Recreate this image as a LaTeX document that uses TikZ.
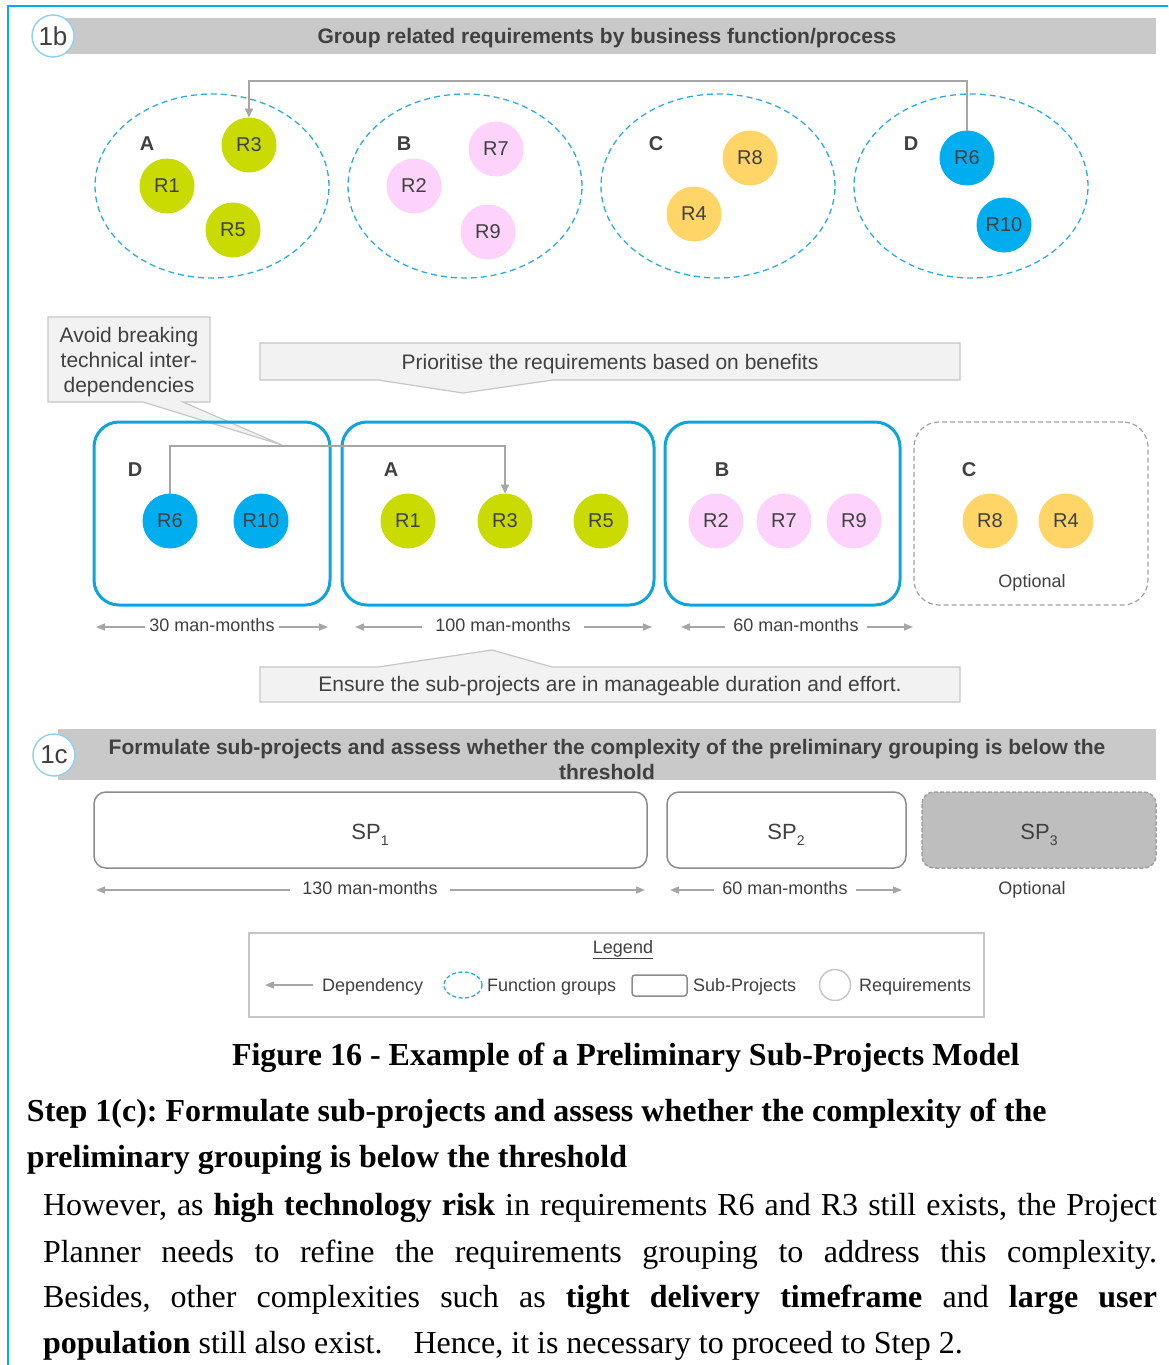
\documentclass[tikz,border=0pt]{standalone}
\usepackage{fontspec}
\setmainfont{Liberation Sans}
\newfontfamily\bodyserif{Liberation Serif}
\usetikzlibrary{arrows.meta,shapes.geometric,calc}
\frenchspacing

\definecolor{frameblue}{HTML}{00AEEF}
\definecolor{barfill}{HTML}{C9C9C9}
\definecolor{inktext}{HTML}{404040}
\definecolor{ringblue}{HTML}{8CD2EF}
\definecolor{groupblue}{HTML}{29ABE2}
\definecolor{spblue}{HTML}{0EA5DD}
\definecolor{reqgreen}{HTML}{C9DB00}
\definecolor{reqpink}{HTML}{FDD2FB}
\definecolor{reqyellow}{HTML}{FFD567}
\definecolor{reqcyan}{HTML}{00AEEF}
\definecolor{deparrow}{HTML}{A6A6A6}
\definecolor{calloutfill}{HTML}{F2F2F2}
\definecolor{calloutline}{HTML}{C6C6C6}
\definecolor{spline}{HTML}{8C8C8C}
\definecolor{optfill}{HTML}{BEBEBE}
\definecolor{optline}{HTML}{A0A0A0}

\newcommand\atsize[1]{\fontsize{#1}{#1}\selectfont}
\newcommand\lowsub[1]{\raisebox{-0.3em}{\atsize{14}#1}}

\begin{document}
\begin{tikzpicture}[x=1pt,y=-1pt,
  every node/.style={inner sep=0pt, outer sep=0pt, text=inktext},
  stepring/.style={circle, draw=ringblue, line width=1.4pt, fill=white,
    minimum size=42pt, font=\atsize{26}},
  headbar/.style={fill=barfill, draw=none},
  headtext/.style={font=\bfseries\atsize{21}, anchor=base},
  grouplabel/.style={font=\bfseries\atsize{20}, anchor=base},
  req/.style={circle, minimum size=55pt, font=\atsize{20}},
  fgroup/.style={ellipse, draw=groupblue, line width=1.3pt,
    dash pattern=on 6pt off 4pt, minimum width=234pt, minimum height=184pt},
  subproj/.style={draw=spblue, line width=3pt, rounded corners=25pt},
  optproj/.style={draw=optline, line width=1.2pt, dash pattern=on 5pt off 3pt,
    rounded corners=25pt},
  dep/.style={draw=deparrow, line width=2pt, -{Triangle[length=9pt,width=8pt]}},
  dimarrow/.style={draw=deparrow, line width=1.5pt, -{Triangle[length=9pt,width=7pt]}},
  smalltext/.style={font=\atsize{18}, anchor=base},
  callout/.style={fill=calloutfill, draw=calloutline, line width=1.2pt},
  callouttext/.style={font=\atsize{21}, anchor=base},
  spbox/.style={draw=spline, line width=1.5pt, rounded corners=12pt},
  sptext/.style={font=\atsize{22}, anchor=base},
  serifline/.style={anchor=base west, font=\bodyserif\atsize{32}, text=black},
  serifhead/.style={anchor=base west, font=\bodyserif\bfseries\atsize{32}, text=black},
]
\useasboundingbox (0,0) rectangle (1168,1365);

% page frame
\draw[frameblue, line width=2.5pt] (1168,6) -- (8,6) -- (8,1365);

% ---------- step 1b ----------
\fill[headbar] (62,18) rectangle (1156,54);
\node[stepring] (s1b) at (53,36) {1b};
\node[headtext] (h1b) at (607,43) {Group related requirements by business function/process};

% function groups
\node[fgroup] (gA) at (212,186) {};
\node[fgroup] (gB) at (465,186) {};
\node[fgroup] (gC) at (718,186) {};
\node[fgroup] (gD) at (971,186) {};

\node[grouplabel] (lA) at (147,150) {A};
\node[grouplabel] (lB) at (404,150) {B};
\node[grouplabel] (lC) at (656,150) {C};
\node[grouplabel] (lD) at (911,150) {D};

\node[req, fill=reqgreen] (tR3) at (249,145) {R3};
\node[req, fill=reqgreen] (tR1) at (167,186) {R1};
\node[req, fill=reqgreen] (tR5) at (233,230) {R5};
\node[req, fill=reqpink] (tR7) at (496,149) {R7};
\node[req, fill=reqpink] (tR2) at (414,186) {R2};
\node[req, fill=reqpink] (tR9) at (488,232) {R9};
\node[req, fill=reqyellow] (tR8) at (750,158) {R8};
\node[req, fill=reqyellow] (tR4) at (694,214) {R4};
\node[req, fill=reqcyan] (tR6) at (967,158) {R6};
\node[req, fill=reqcyan] (tR10) at (1004,225) {R10};

\coordinate (toprail) at (0,81);
\draw[dep] (tR6.north) -- (tR6.north |- toprail) -- (tR3.north |- toprail) -- (tR3.north);

% ---------- callouts ----------
\filldraw[callout] (48,317) -- (210,317) -- (210,402) -- (183,402) -- (282,445)
  -- (143,402) -- (48,402) -- cycle;
\node[callouttext] (av1) at (129,342) {Avoid breaking};
\node[callouttext] (av2) at (129,367) {technical inter-};
\node[callouttext] (av3) at (129,392) {dependencies};

\filldraw[callout] (260,343) -- (960,343) -- (960,380) -- (553,380) -- (463,393)
  -- (378,380) -- (260,380) -- cycle;
\node[callouttext] (prio) at (610,369) {Prioritise the requirements based on benefits};

% ---------- preliminary sub-projects ----------
\node[subproj, minimum width=236pt, minimum height=183pt] (bD) at (212,513.5) {};
\node[subproj, minimum width=312pt, minimum height=183pt] (bA) at (498,513.5) {};
\node[subproj, minimum width=235pt, minimum height=183pt] (bB) at (782.5,513.5) {};
\node[optproj, minimum width=234pt, minimum height=183pt] (bC) at (1031,513.5) {};

\node[grouplabel] (mD) at (135,476) {D};
\node[grouplabel] (mA) at (391,476) {A};
\node[grouplabel] (mB) at (722,476) {B};
\node[grouplabel] (mC) at (969,476) {C};

\node[req, fill=reqcyan] (mR6) at (170,521) {R6};
\node[req, fill=reqcyan] (mR10) at (261,521) {R10};
\node[req, fill=reqgreen] (mR1) at (408,521) {R1};
\node[req, fill=reqgreen] (mR3) at (505,521) {R3};
\node[req, fill=reqgreen] (mR5) at (601,521) {R5};
\node[req, fill=reqpink] (mR2) at (716,521) {R2};
\node[req, fill=reqpink] (mR7) at (784,521) {R7};
\node[req, fill=reqpink] (mR9) at (854,521) {R9};
\node[req, fill=reqyellow] (mR8) at (990,521) {R8};
\node[req, fill=reqyellow] (mR4) at (1066,521) {R4};

\node[smalltext] (opt1) at (1032,587) {Optional};

\coordinate (midrail) at (0,446);
\draw[dep] (mR6.north) -- (mR6.north |- midrail) -- (mR3.north |- midrail) -- (mR3.north);

% efforts
\node[smalltext] (e30) at (212,631) {30 man-months};
\node[smalltext] (e100) at (503,631) {100 man-months};
\node[smalltext] (e60) at (796,631) {60 man-months};
\coordinate (e30l) at (96,627);  \coordinate (e30r) at (328,627);
\coordinate (e100l) at (355,627); \coordinate (e100r) at (652,627);
\coordinate (e60l) at (681,627);  \coordinate (e60r) at (913,627);
\draw[dimarrow] ($(e30.west |- e30l)+(-4,0)$) -- (e30l);
\draw[dimarrow] ($(e30.east |- e30r)+(4,0)$) -- (e30r);
\draw[dimarrow] ($(e100.west |- e100l)+(-13,0)$) -- (e100l);
\draw[dimarrow] ($(e100.east |- e100r)+(13,0)$) -- (e100r);
\draw[dimarrow] ($(e60.west |- e60l)+(-8,0)$) -- (e60l);
\draw[dimarrow] ($(e60.east |- e60r)+(8,0)$) -- (e60r);

\filldraw[callout] (260,667) -- (378,667) -- (492,650) -- (552,667) -- (960,667)
  -- (960,702) -- (260,702) -- cycle;
\node[callouttext] (ensure) at (610,691) {Ensure the sub-projects are in manageable duration and effort.};

% ---------- step 1c ----------
\fill[headbar] (58,729) rectangle (1156,780);
\node[stepring] (s1c) at (54,755) {1c};
\node[headtext] (h1c1) at (607,754) {Formulate sub-projects and assess whether the complexity of the preliminary grouping is below the};
\node[headtext] (h1c2) at (607,779) {threshold};

\draw[spbox] (94,792) rectangle (647,868);
\draw[spbox] (667,792) rectangle (906,868);
\draw[spbox, fill=optfill, draw=optline, dash pattern=on 4pt off 2pt] (922,792) rectangle (1156,868);
\node[sptext] (sp1) at (370,839) {SP\lowsub{1}};
\node[sptext] (sp2) at (786,839) {SP\lowsub{2}};
\node[sptext] (sp3) at (1039,839) {SP\lowsub{3}};

\node[smalltext] (e130) at (370,894) {130 man-months};
\node[smalltext] (e60b) at (785,894) {60 man-months};
\node[smalltext] (opt2) at (1032,894) {Optional};
\coordinate (e130l) at (96,890);  \coordinate (e130r) at (645,890);
\coordinate (e60bl) at (670,890); \coordinate (e60br) at (902,890);
\draw[dimarrow] ($(e130.west |- e130l)+(-12,0)$) -- (e130l);
\draw[dimarrow] ($(e130.east |- e130r)+(12,0)$) -- (e130r);
\draw[dimarrow] ($(e60b.west |- e60bl)+(-8,0)$) -- (e60bl);
\draw[dimarrow] ($(e60b.east |- e60br)+(8,0)$) -- (e60br);

% ---------- legend ----------
\draw[calloutline, line width=1.2pt] (249,933) rectangle (984,1017);
\node[smalltext] (leg) at (623,953) {\underline{Legend}};
\coordinate (legtip) at (265,985);
\coordinate (legtail) at (313,985);
\draw[dimarrow] (legtail) -- (legtip);
\node[smalltext, anchor=base west] (lg1) at (322,991) {Dependency};
\node[ellipse, draw=groupblue, line width=1.3pt, dash pattern=on 4pt off 2.5pt,
  minimum width=38pt, minimum height=26pt] (lgE) at (463,985) {};
\node[smalltext, anchor=base west] (lg2) at (487,991) {Function groups};
\draw[draw=spline, line width=1.5pt, rounded corners=3pt] (632,975) rectangle (687,996);
\node[smalltext, anchor=base west] (lg3) at (693,991) {Sub-Projects};
\node[circle, draw=calloutline, line width=1.5pt, minimum size=31pt] (lgC) at (835,985) {};
\node[smalltext, anchor=base west] (lg4) at (859,991) {Requirements};

% ---------- caption and text ----------
\node[serifhead] (cap) at (232,1065)
  {Figure 16 - Example of a Preliminary Sub-Projects Model};
\node[serifhead] (st1) at (27,1121)
  {Step 1(c): Formulate sub-projects and assess whether the complexity of the};
\node[serifhead] (st2) at (27,1167)
  {preliminary grouping is below the threshold};
\node[serifline] (b1) at (43,1215) {\makebox[1114pt][s]{However, as \textbf{high technology risk} in requirements R6 and R3 still exists, the Project}};
\node[serifline] (b2) at (43,1262) {\makebox[1114pt][s]{Planner needs to refine the requirements grouping to address this complexity.}};
\node[serifline] (b3) at (43,1307) {\makebox[1114pt][s]{Besides, other complexities such as \textbf{tight delivery timeframe} and \textbf{large user}}};
\node[serifline] (b4) at (43,1353) {\textbf{population} still also exist.\hspace{31pt}Hence, it is necessary to proceed to Step 2.};
\end{tikzpicture}
\end{document}
